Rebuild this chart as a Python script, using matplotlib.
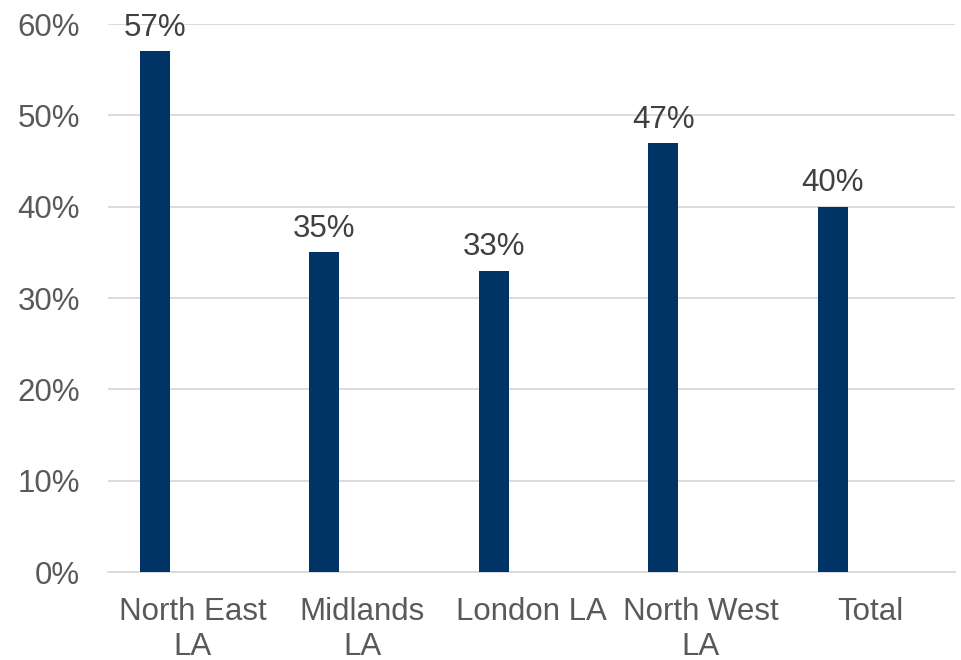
import matplotlib
matplotlib.use("Agg")
import matplotlib.pyplot as plt
from matplotlib.ticker import FuncFormatter

categories = ["North East\nLA", "Midlands\nLA", "London LA", "North West\nLA", "Total"]
values = [0.57, 0.35, 0.33, 0.47, 0.40]
yticks = [0, 0.1, 0.2, 0.3, 0.4, 0.5, 0.6]

plt.rcParams['font.family'] = ['Liberation Sans', 'DejaVu Sans']

fig = plt.figure(figsize=(9.61, 6.60), dpi=100)
ax = fig.add_axes([108/961, 1-572/660, (955-108)/961, (572-24)/660])

x = list(range(len(categories)))
offset = -0.2225
bw = 0.177
bars = ax.bar([i + offset for i in x], values, width=bw, color="#003366", zorder=3)
for xi, v in zip(x, values):
    ax.text(xi + offset, v + 0.009, f"{round(v*100):d}%", ha="center", va="bottom",
            fontsize=22.5, color="#404040")

ax.set_xlim(-0.5, len(categories) - 0.5)
ax.set_ylim(0, 0.6)
ax.set_yticks(yticks)
ax.yaxis.set_major_formatter(FuncFormatter(lambda v, p: f"{round(v*100):d}%"))
ax.set_xticks(x)
ax.set_xticklabels(categories, linespacing=1.2)
ax.tick_params(axis="y", length=0, pad=20, labelsize=22.5, labelcolor="#595959")
ax.tick_params(axis="x", length=0, pad=18, labelsize=22.5, labelcolor="#595959")
ax.grid(axis="y", color="#d9d9d9", linewidth=1.3, zorder=0)
for s in ["left", "right", "top"]:
    ax.spines[s].set_visible(False)
ax.spines["bottom"].set_color("#d9d9d9")
ax.spines["bottom"].set_linewidth(1.3)
ax.set_axisbelow(True)

fig.savefig("out.png", dpi=100)
